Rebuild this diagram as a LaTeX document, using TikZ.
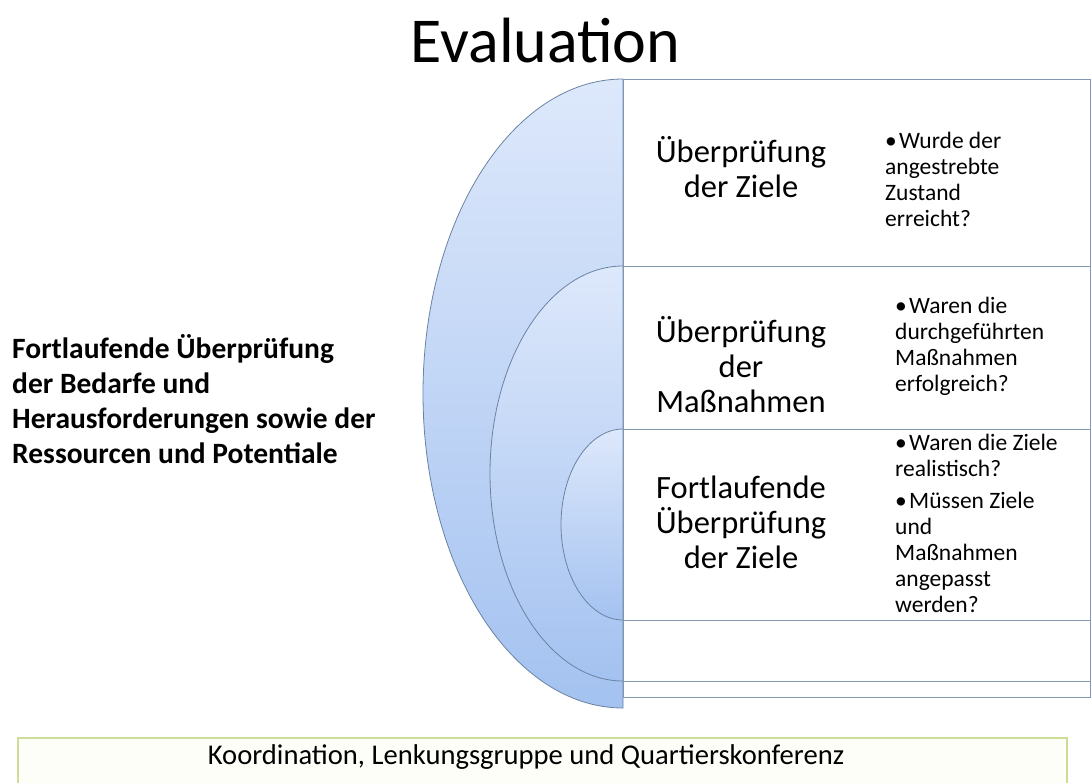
\documentclass[tikz,border=0pt]{standalone}
\usepackage{fontspec}
\setmainfont{Carlito}
\usepackage{tikz}
\usetikzlibrary{positioning}

\definecolor{arcTop}{HTML}{DDE8FB}
\definecolor{arcBot}{HTML}{A4C2F0}
\definecolor{arcLine}{HTML}{6A83A3}
\definecolor{boxLine}{HTML}{8298B2}
\definecolor{baseLine}{HTML}{CCDD98}
\definecolor{baseFill}{HTML}{FEFEF9}

\newcommand{\bul}{\hangindent=14pt\hangafter=1\makebox[14pt][l]{\textbullet}}

\begin{document}
\begin{tikzpicture}[x=1pt,y=-1pt]
	
	\tikzset{half/.style={top color=arcTop, bottom color=arcBot, draw=arcLine, line width=0.8pt},
		field/.style={fill=white, draw=boxLine, line width=1pt},
		head/.style={anchor=base, inner sep=0pt, font=\fontsize{32.5}{35}\selectfont},
		note/.style={anchor=base west, inner sep=0pt, font=\fontsize{23.5}{26}\selectfont},
		side/.style={anchor=base west, inner sep=0pt, font=\bfseries\fontsize{29.5}{35}\selectfont}
	}
	
	\clip (0,0) rectangle (1091,782);
	\fill[white] (0,0) rectangle (1091,782);
	
	% nested half ellipses with their boxes
	\shadedraw[half] (623,708) arc[start angle=270, end angle=90, x radius=200pt, y radius=314.5pt] -- cycle;
	\draw[field] (623,79) rectangle (1090,697);
	\shadedraw[half] (623,681) arc[start angle=270, end angle=90, x radius=133pt, y radius=207.5pt] -- cycle;
	\draw[field] (623,266) rectangle (1090,681);
	\shadedraw[half] (623,620) arc[start angle=270, end angle=90, x radius=62pt, y radius=95.5pt] -- cycle;
	\draw[field] (623,429) rectangle (1090,620);
	
	\node[anchor=base, inner sep=0pt, font=\fontsize{64}{70}\selectfont] (title) at (545.5,62) {Evaluation};
	
	\node[head] (ziel) at (741,162) {\parbox[t]{220pt}{\centering Überprüfung\\der Ziele}};
	\node[head] (mass) at (741,342) {\parbox[t]{220pt}{\centering Überprüfung\\der\\Maßnahmen}};
	\node[head] (fort) at (741,498) {\parbox[t]{220pt}{\centering Fortlaufende\\Überprüfung\\der Ziele}};
	
	\node[note] (zielq) at (885,148) {\parbox[t]{195pt}{\raggedright\bul Wurde der\\angestrebte\\Zustand\\erreicht?}};
	\node[note] (massq) at (895,313) {\parbox[t]{195pt}{\raggedright\bul Waren die\\durchgeführten\\Maßnahmen\\erfolgreich?}};
	\node[note] (fortq) at (895,450) {\parbox[t]{195pt}{\raggedright\bul Waren die Ziele\\realistisch?\par\vspace{6.5pt}\bul Müssen Ziele\\und\\Maßnahmen\\angepasst\\werden?}};
	
	\node[side] (lead) at (12,358) {\parbox[t]{420pt}{\raggedright Fortlaufende Überprüfung\\der Bedarfe und\\Herausforderungen sowie der\\Ressourcen und Potentiale}};
	
	% base strip
	\draw[baseLine, fill=baseFill, line width=2.5pt] (18,738) rectangle (1067,800);
	\node[anchor=base, inner sep=0pt, font=\fontsize{28.6}{34}\selectfont] (koord) at (526,764) {Koordination, Lenkungsgruppe und Quartierskonferenz};
	
\end{tikzpicture}
\end{document}
